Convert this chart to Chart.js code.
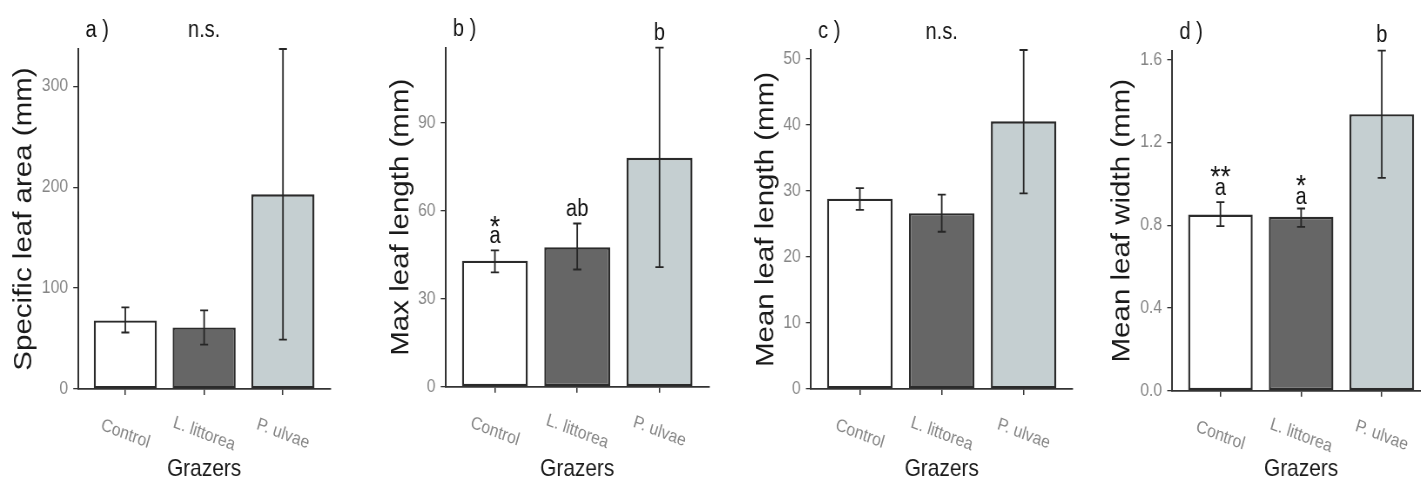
<!DOCTYPE html>
<html>
<head>
<meta charset="utf-8">
<script src="https://cdn.jsdelivr.net/npm/chart.js@4.4.1/dist/chart.umd.min.js"></script>
<style>
  html, body { margin: 0; padding: 0; background: #fff; width: 1421px; height: 482px; overflow: hidden; }
  canvas.panel { position: absolute; top: 0; transform-origin: 0 0; }
</style>
</head>
<body>
<script>
const grazers = ["Control", "L. littorea", "P. ulvae"];
const barFills = ["#ffffff", "#666666", "#c5cfd1"];

// a) specific leaf area
const slaMean = [68, 61, 193];
const slaLow = [56, 44, 49];
const slaHigh = [81, 78, 337];
const slaLetters = ["", "n.s.", ""];
const slaLetterAt = [null, 349, null];

// b) max leaf length
const maxLenMean = [43, 47.6, 78.1];
const maxLenLow = [39, 40, 40.8];
const maxLenHigh = [46.5, 55.7, 115.7];
const maxLenLetters = ["a", "ab", "b"];
const maxLenLetterAt = [48.9, 58.3, 118.3];
const maxLenStars = ["*", "", ""];
const maxLenStarAt = [57.3, null, null];

// c) mean leaf length
const meanLenMean = [28.8, 26.6, 40.5];
const meanLenLow = [27.1, 23.8, 29.6];
const meanLenHigh = [30.4, 29.4, 51.3];
const meanLenLetters = ["", "n.s.", ""];
const meanLenLetterAt = [null, 53.0, null];

// d) mean leaf width
const widthMean = [0.852, 0.841, 1.337];
const widthLow = [0.796, 0.792, 1.029];
const widthHigh = [0.912, 0.881, 1.644];
const widthLetters = ["a", "a", "b"];
const widthLetterAt = [0.945, 0.905, 1.686];
const widthStars = ["**", "*", ""];
const widthStarAt = [1.075, 1.029, null];

// the figure is squeezed sideways, so every canvas is drawn wider and scaled back
const SX = 0.87;
const FONT = "'Liberation Sans', Arial, Helvetica, sans-serif";

const panels = [
  { tag: "a )", yTitle: "Specific leaf area (mm)", mean: slaMean, low: slaLow, high: slaHigh,
    step: 100, digits: 0, letters: slaLetters, letterAt: slaLetterAt, stars: [], starAt: [],
    box: { from: 0, to: 350, left: 78, right: 330.5, top: 49, bottom: 389, titleX: 24 } },
  { tag: "b )", yTitle: "Max leaf length (mm)", mean: maxLenMean, low: maxLenLow, high: maxLenHigh,
    step: 30, digits: 0, letters: maxLenLetters, letterAt: maxLenLetterAt, stars: maxLenStars, starAt: maxLenStarAt,
    box: { from: 350, to: 715, left: 445.5, right: 708.5, top: 47.7, bottom: 386.7, titleX: 401 } },
  { tag: "c )", yTitle: "Mean leaf length (mm)", mean: meanLenMean, low: meanLenLow, high: meanLenHigh,
    step: 10, digits: 0, letters: meanLenLetters, letterAt: meanLenLetterAt, stars: [], starAt: [],
    box: { from: 715, to: 1085, left: 810.7, right: 1073, top: 50, bottom: 389, titleX: 766 } },
  { tag: "d )", yTitle: "Mean leaf width (mm)", mean: widthMean, low: widthLow, high: widthHigh,
    step: 0.4, digits: 1, letters: widthLetters, letterAt: widthLetterAt, stars: widthStars, starAt: widthStarAt,
    box: { from: 1085, to: 1430, left: 1172, right: 1429.8, top: 50.7, bottom: 390.7, titleX: 1122 } }
];

const extras = {
  id: "extras",
  afterDatasetsDraw(chart, args, opts) {
    const { ctx, scales: { x, y } } = chart;
    ctx.save();
    ctx.strokeStyle = "#262626";
    ctx.lineWidth = 1.8;
    opts.low.forEach((lo, i) => {
      const cx = x.getPixelForValue(i + 1);
      const half = x.getPixelForValue(i + 1.05) - cx;
      const y1 = y.getPixelForValue(lo);
      const y2 = y.getPixelForValue(opts.high[i]);
      ctx.beginPath();
      ctx.moveTo(cx, y1); ctx.lineTo(cx, y2);
      ctx.moveTo(cx - half, y1); ctx.lineTo(cx + half, y1);
      ctx.moveTo(cx - half, y2); ctx.lineTo(cx + half, y2);
      ctx.stroke();
    });
    ctx.restore();
  },
  afterDraw(chart, args, opts) {
    const { ctx, chartArea, scales: { x, y } } = chart;
    ctx.save();

    // rotated category labels
    ctx.fillStyle = "#858585";
    ctx.font = "18px " + FONT;
    ctx.textAlign = "center";
    ctx.textBaseline = "middle";
    grazers.forEach((name, i) => {
      ctx.save();
      ctx.translate(x.getPixelForValue(i + 1), chartArea.bottom + 45);
      ctx.rotate(18.5 * Math.PI / 180);
      ctx.fillText(name, 0, 0);
      ctx.restore();
    });

    ctx.fillStyle = "#111";
    ctx.textBaseline = "alphabetic";
    ctx.font = "23px " + FONT;
    ctx.textAlign = "left";
    ctx.fillText(opts.tag, chartArea.left + 8.6, chartArea.top - 12);

    ctx.textAlign = "center";
    opts.letters.forEach((t, i) => {
      if (!t) return;
      ctx.fillText(t, x.getPixelForValue(i + 1), y.getPixelForValue(opts.letterAt[i]));
    });

    ctx.font = "30px " + FONT;
    opts.stars.forEach((t, i) => {
      if (!t) return;
      ctx.fillText(t, x.getPixelForValue(i + 1), y.getPixelForValue(opts.starAt[i]) + 0.58 * 30);
    });
    ctx.restore();
  }
};

panels.forEach((p) => {
  const b = p.box;
  const canvas = document.createElement("canvas");
  canvas.className = "panel";
  canvas.width = Math.round((b.to - b.from) / SX);
  canvas.height = 482;
  canvas.style.left = b.from + "px";
  canvas.style.transform = "scaleX(" + SX + ")";
  document.body.appendChild(canvas);

  const yAxisWidth = (b.left - b.from) / SX;
  const yTitleSize = 29.5;
  const xTitleSize = 24;

  new Chart(canvas.getContext("2d"), {
    type: "bar",
    data: {
      datasets: [{
        data: p.mean.map((v, i) => ({ x: i + 1, y: v })),
        backgroundColor: barFills,
        borderColor: "#2b2b2b",
        borderWidth: 2.4,
        borderSkipped: false,
        categoryPercentage: 0.8,
        barPercentage: 1
      }]
    },
    options: {
      responsive: false,
      animation: false,
      devicePixelRatio: 1,
      layout: {
        padding: { left: 0, right: (b.to - b.right) / SX, top: b.top, bottom: 0 }
      },
      plugins: {
        legend: { display: false },
        tooltip: { enabled: false },
        extras: {
          tag: p.tag, low: p.low, high: p.high,
          letters: p.letters, letterAt: p.letterAt, stars: p.stars, starAt: p.starAt
        }
      },
      scales: {
        x: {
          type: "linear",
          offset: false,
          min: 0.4,
          max: grazers.length + 0.6,
          afterBuildTicks: (scale) => { scale.ticks = grazers.map((_, i) => ({ value: i + 1 })); },
          afterFit: (scale) => { scale.height = 482 - b.bottom; },
          grid: { offset: false, drawOnChartArea: false, drawTicks: true, tickLength: 6, color: "#333", lineWidth: 1.5 },
          border: { display: true, color: "#333", width: 1.8 },
          ticks: { display: false },
          title: {
            display: true, text: "Grazers", color: "#1a1a1a",
            font: { family: FONT, size: xTitleSize, lineHeight: 1 },
            padding: { top: 0, bottom: 482 - 469 - xTitleSize / 2 }
          }
        },
        y: {
          min: 0,
          max: Math.max(...p.high),
          afterFit: (scale) => { scale.width = yAxisWidth; },
          grid: { drawOnChartArea: false, drawTicks: true, tickLength: 5.5, color: "#333", lineWidth: 1.3 },
          border: { display: true, color: "#333", width: 2 },
          ticks: {
            stepSize: p.step,
            includeBounds: false,
            padding: 6,
            color: "#858585",
            font: { family: FONT, size: 18 },
            callback: (v) => v.toFixed(p.digits)
          },
          title: {
            display: true, text: p.yTitle, color: "#1a1a1a",
            font: { family: FONT, size: yTitleSize, lineHeight: 1 },
            padding: { top: (b.titleX - b.from) / SX - yTitleSize / 2, bottom: 0 }
          }
        }
      }
    },
    plugins: [extras]
  });
});
</script>
</body>
</html>
